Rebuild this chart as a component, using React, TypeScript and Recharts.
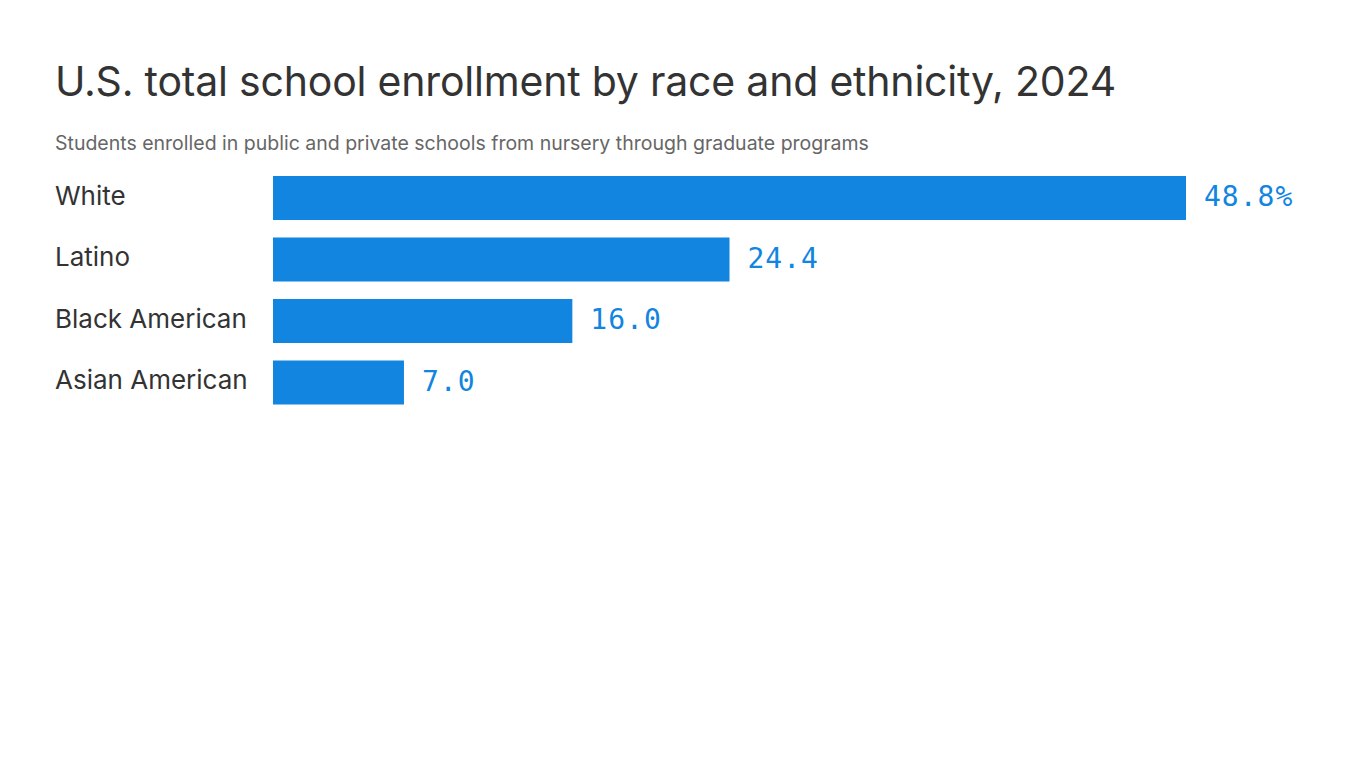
import { Bar, BarChart, LabelList, XAxis, YAxis } from "recharts";

const categories = ["White", "Latino", "Black American", "Asian American"];
const shares = [48.8, 24.4, 16.0, 7.0];

const rows = categories.map((name, i) => ({ name, value: shares[i] }));

const sans = "Inter, 'Noto Sans', sans-serif";
const mono = "'DejaVu Sans Mono', 'Liberation Mono', monospace";
const blue = "#1185e0";

function CategoryTick(props: any) {
  const { y, payload } = props;
  return (
    <text
      x={55}
      y={y}
      dy={7}
      textAnchor="start"
      fill="#333333"
      fontSize={26}
      fontFamily={sans}
    >
      {payload.value}
    </text>
  );
}

function ValueLabel(props: any) {
  const { x, y, width, height, value, index } = props;
  const text = index === 0 ? `${value.toFixed(1)}%` : value.toFixed(1);
  return (
    <text
      x={x + width + 18}
      y={y + height / 2}
      dy={8}
      fill={blue}
      fontSize={28}
      letterSpacing={1}
      fontFamily={mono}
    >
      {text}
    </text>
  );
}

export default function App() {
  return (
    <div
      style={{
        position: "absolute",
        top: 0,
        left: 0,
        width: 1366,
        height: 768,
        background: "#ffffff",
        fontFamily: sans,
      }}
    >
      <div
        style={{
          position: "absolute",
          left: 55,
          top: 56,
          fontSize: 41,
          lineHeight: "50px",
          color: "#333333",
          letterSpacing: -0.2,
        }}
      >
        U.S. total school enrollment by race and ethnicity, 2024
      </div>
      <div
        style={{
          position: "absolute",
          left: 55,
          top: 131,
          fontSize: 19.5,
          lineHeight: "24px",
          color: "#666666",
        }}
      >
        Students enrolled in public and private schools from nursery through graduate programs
      </div>
      <div style={{ position: "absolute", left: 0, top: 167 }}>
        <BarChart
          width={1366}
          height={246}
          data={rows}
          layout="vertical"
          margin={{ top: 0, right: 180, bottom: 0, left: 0 }}
          barSize={44}
        >
          <XAxis type="number" domain={[0, "dataMax"]} hide />
          <YAxis
            type="category"
            dataKey="name"
            width={273}
            axisLine={false}
            tickLine={false}
            tick={<CategoryTick />}
          />
          <Bar dataKey="value" fill={blue} isAnimationActive={false}>
            <LabelList dataKey="value" content={<ValueLabel />} />
          </Bar>
        </BarChart>
      </div>
    </div>
  );
}
